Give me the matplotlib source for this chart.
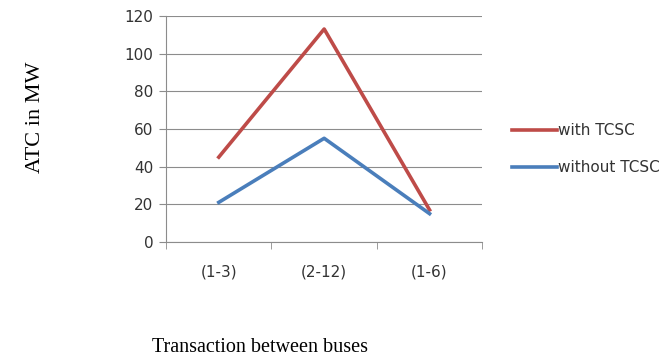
import matplotlib.pyplot as plt
import numpy as np

# ATC values for each transaction
transactions = ["(1-3)", "(2-12)", "(1-6)"]
with_tcsc = [45, 113, 17]
without_tcsc = [21, 55, 15]

fig = plt.figure(figsize=(6.67, 3.6), dpi=100)
ax = fig.add_axes([0.249, 0.328, 0.474, 0.628])

x = np.arange(len(transactions))
ax.plot(x, with_tcsc, color="#BE4B48", lw=2.6, label="with TCSC")
ax.plot(x, without_tcsc, color="#4A7EBB", lw=2.6, label="without TCSC")

ax.set_xlim(-0.5, len(transactions) - 0.5)
ax.set_ylim(0, 120)
ax.set_yticks(range(0, 121, 20))
ax.yaxis.grid(True, color="#8c8c8c", lw=0.8)
ax.set_axisbelow(True)

# category labels centred, tick marks on category boundaries
ax.set_xticks(x)
ax.set_xticklabels(transactions)
ax.set_xticks(np.arange(-0.5, len(transactions), 1.0), minor=True)
ax.tick_params(axis="x", which="major", length=0, pad=16, labelsize=11, colors="#333333")
ax.tick_params(axis="x", which="minor", length=5, color="#8c8c8c")
ax.tick_params(axis="y", length=5, color="#8c8c8c", labelsize=11, labelcolor="#333333", pad=4)

for s in ["top", "right"]:
    ax.spines[s].set_visible(False)
for s in ["left", "bottom"]:
    ax.spines[s].set_color("#8c8c8c")

fig.text(0.053, 0.675, "ATC in MW", rotation=90, ha="center", va="center",
         family="Liberation Serif", fontsize=16)
fig.text(0.39, 0.035, "Transaction between buses", ha="center", va="center",
         family="Liberation Serif", fontsize=14.5)

ax.legend(loc="center left", bbox_to_anchor=(1.095, 0.41), frameon=False,
          fontsize=11, handlelength=2.9, handletextpad=0.1, labelspacing=1.45,
          borderpad=0, borderaxespad=0, labelcolor="#333333")

fig.savefig("out.png", dpi=100)
